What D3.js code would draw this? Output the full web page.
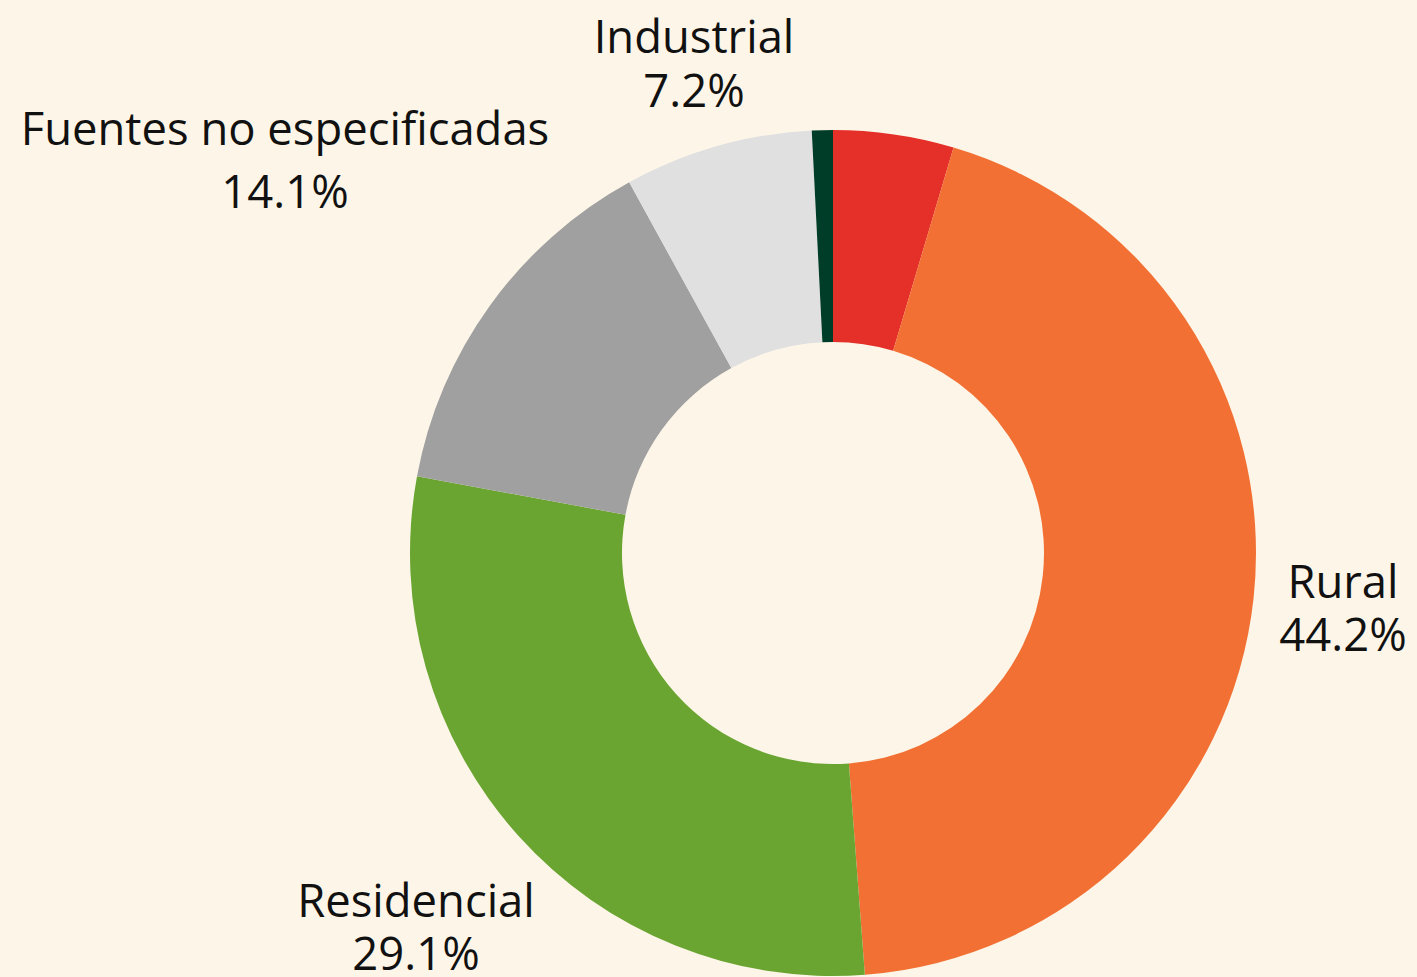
<!DOCTYPE html>
<html><head><meta charset="utf-8">
<script src="https://cdn.jsdelivr.net/npm/d3@7"></script>
<style>html,body{margin:0;padding:0;background:#fdf6e8;}svg{display:block;}</style>
</head><body>
<svg id="chart" width="1417" height="977"></svg>
<script>
const categories = ["Otros", "Rural", "Residencial", "Fuentes no especificadas", "Industrial", "Comercial"];
const values = [4.6, 44.2, 29.1, 14.1, 7.2, 0.8];
const colors = ["#e5302a", "#f27033", "#6aa532", "#a0a0a0", "#e0e0e0", "#003d28"];
const showLabel = [false, true, true, true, true, false];
const labelPos = [null, [1343, 598, 651], [416, 917, 970], [285, 145, 208], [694, 53, 107], null];

const svg = d3.select("#chart");
svg.append("rect").attr("width", 1417).attr("height", 977).attr("fill", "#fdf6e8");
const cx = 833, cy = 553, rOuter = 423, rInner = 211;
const pie = d3.pie().sort(null).value(d => d)(values);
const arc = d3.arc().innerRadius(rInner).outerRadius(rOuter);
const g = svg.append("g").attr("transform", `translate(${cx},${cy})`);
g.selectAll("path").data(pie).join("path")
  .attr("d", arc).attr("fill", (d, i) => colors[i]);

const fmt = v => v.toFixed(1) + "%";
categories.forEach((c, i) => {
  if (!showLabel[i]) return;
  const p = labelPos[i];
  const t = svg.append("g").attr("font-family", "'Open Sans', 'Noto Sans', sans-serif")
    .attr("font-size", 45.4).attr("fill", "#111").attr("text-anchor", "middle");
  t.append("text").attr("x", p[0]).attr("y", p[1]).text(c);
  t.append("text").attr("x", p[0]).attr("y", p[2]).text(fmt(values[i]));
});
</script>
</body></html>
